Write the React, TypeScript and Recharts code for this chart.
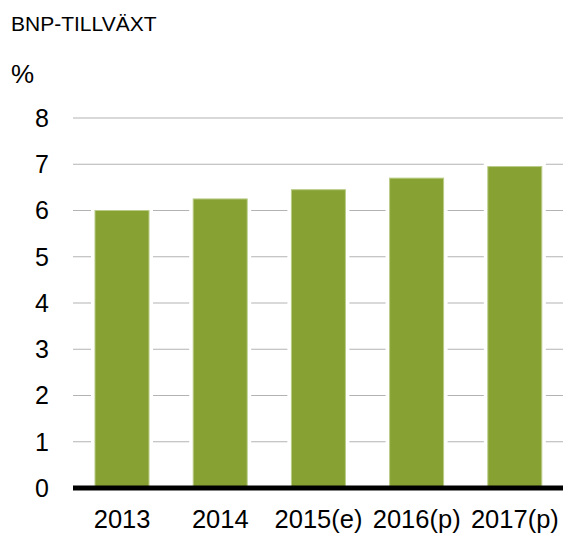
import { BarChart, Bar, XAxis, YAxis, CartesianGrid } from "recharts";

const years = ["2013", "2014", "2015(e)", "2016(p)", "2017(p)"];
const growth = [6.0, 6.25, 6.45, 6.7, 6.95];
const yTicks = [0, 1, 2, 3, 4, 5, 6, 7, 8];

const data = years.map((year, i) => ({ year, value: growth[i] }));

const FONT = "'Liberation Sans', Arial, sans-serif";
const GREEN = "#87A133";

// bar with a white halo that cuts the gridlines, like the original
function HaloBar(props: any) {
  const { x, y, width, height } = props;
  if (height <= 0) return null;
  const pad = 4;
  return (
    <g>
      <rect x={x - pad} y={y - pad} width={width + pad * 2} height={height + pad} fill="#fff" />
      <rect x={x} y={y} width={width} height={height} fill={GREEN} stroke="#b9cc86" strokeWidth={1} />
    </g>
  );
}

export default function App() {
  return (
    <div style={{ position: "absolute", left: 0, top: 0, width: 563, height: 533, overflow: "hidden", background: "#fff", fontFamily: FONT }}>
      <div style={{ position: "absolute", left: 11, top: 12, fontSize: 21, lineHeight: "24px", color: "#000" }}>
        BNP-TILLVÄXT
      </div>
      <div style={{ position: "absolute", left: 11, top: 59, fontSize: 26, lineHeight: "30px", color: "#000" }}>
        %
      </div>
      <BarChart
        width={564}
        height={533}
        data={data}
        margin={{ top: 118, right: 0, bottom: 0, left: 0 }}
        barSize={54}
      >
        <CartesianGrid vertical={false} stroke="#b3b3b3" strokeWidth={1.2} />
        <YAxis
          width={73}
          domain={[0, 8]}
          ticks={yTicks}
          interval={0}
          axisLine={false}
          tickLine={false}
          tickSize={0}
          tickMargin={24}
          tick={{ fontSize: 25, fill: "#000", fontFamily: FONT }}
        />
        <XAxis
          dataKey="year"
          height={45}
          interval={0}
          tickLine={false}
          tickSize={0}
          tickMargin={22}
          axisLine={{ stroke: "#000", strokeWidth: 5 }}
          tick={{ fontSize: 25.5, fill: "#000", fontFamily: FONT }}
        />
        <Bar dataKey="value" shape={<HaloBar />} isAnimationActive={false} />
      </BarChart>
    </div>
  );
}
